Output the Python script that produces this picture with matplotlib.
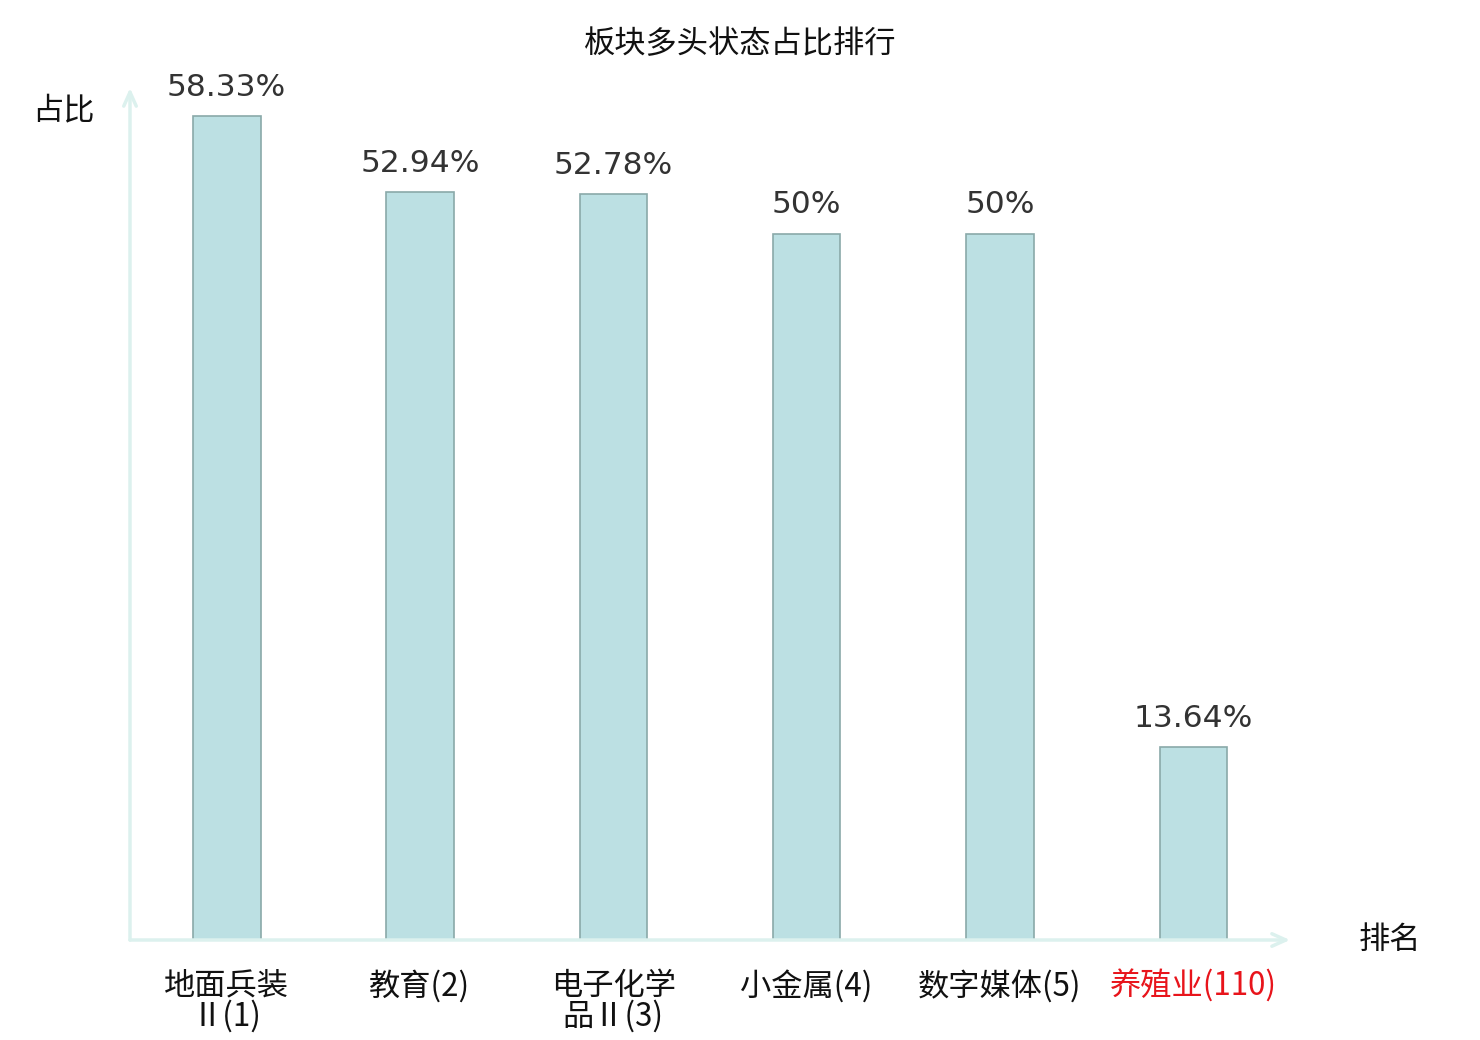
import matplotlib
matplotlib.use("Agg")
import matplotlib.pyplot as plt

plt.rcParams['font.family'] = ['Noto Sans CJK SC', 'DejaVu Sans']

categories = ['地面兵装\nⅡ(1)', '教育(2)', '电子化学\n品Ⅱ(3)', '小金属(4)', '数字媒体(5)', '养殖业(110)']
values = [58.33, 52.94, 52.78, 50, 50, 13.64]
value_labels = ['58.33%', '52.94%', '52.78%', '50%', '50%', '13.64%']
label_colors = ['#111111', '#111111', '#111111', '#111111', '#111111', '#e8141b']

fig = plt.figure(figsize=(14.8, 10.4), dpi=100)
ax = fig.add_axes([130 / 1480, 100 / 1040, 1160 / 1480, 852 / 1040])

x = list(range(len(values)))
ax.bar(x, values, width=0.35, color='#bce0e3', edgecolor='#8aa9a9', linewidth=1.2, zorder=2)
ax.set_xlim(-0.5, 5.5)
ax.set_ylim(0, 60.3)

for xi, v, lab in zip(x, values, value_labels):
    ax.text(xi, v + 1.0, lab, ha='center', va='bottom', fontsize=22.5,
            color='#333333', family='DejaVu Sans')

for s in ax.spines.values():
    s.set_visible(False)
ax.set_xticks([])
ax.set_yticks([])

arrow_col = '#dcf1ee'
ax.annotate('', xy=(1.0, 0), xytext=(0, 0), xycoords='axes fraction',
            arrowprops=dict(arrowstyle='->,head_length=1.0,head_width=0.45',
                            color=arrow_col, lw=2.5, shrinkA=0, shrinkB=0))
ax.annotate('', xy=(0, 1.0), xytext=(0, 0), xycoords='axes fraction',
            arrowprops=dict(arrowstyle='->,head_length=1.0,head_width=0.45',
                            color=arrow_col, lw=2.5, shrinkA=0, shrinkB=0))

for xi, cat, col in zip(x, categories, label_colors):
    ax.text(xi, -2.1, cat, ha='center', va='top', fontsize=22.5, color=col,
            linespacing=0.95)

fig.text(63 / 1480, 1 - 110 / 1040, '占比', ha='center', va='center', fontsize=22.5, color='#111111')
fig.text(1390 / 1480, 1 - 940 / 1040, '排名', ha='center', va='center', fontsize=22.5, color='#111111')
fig.text(0.5, 1 - 44 / 1040, '板块多头状态占比排行', ha='center', va='center', fontsize=22.5, color='#111111')

fig.savefig('out.png', dpi=100)
